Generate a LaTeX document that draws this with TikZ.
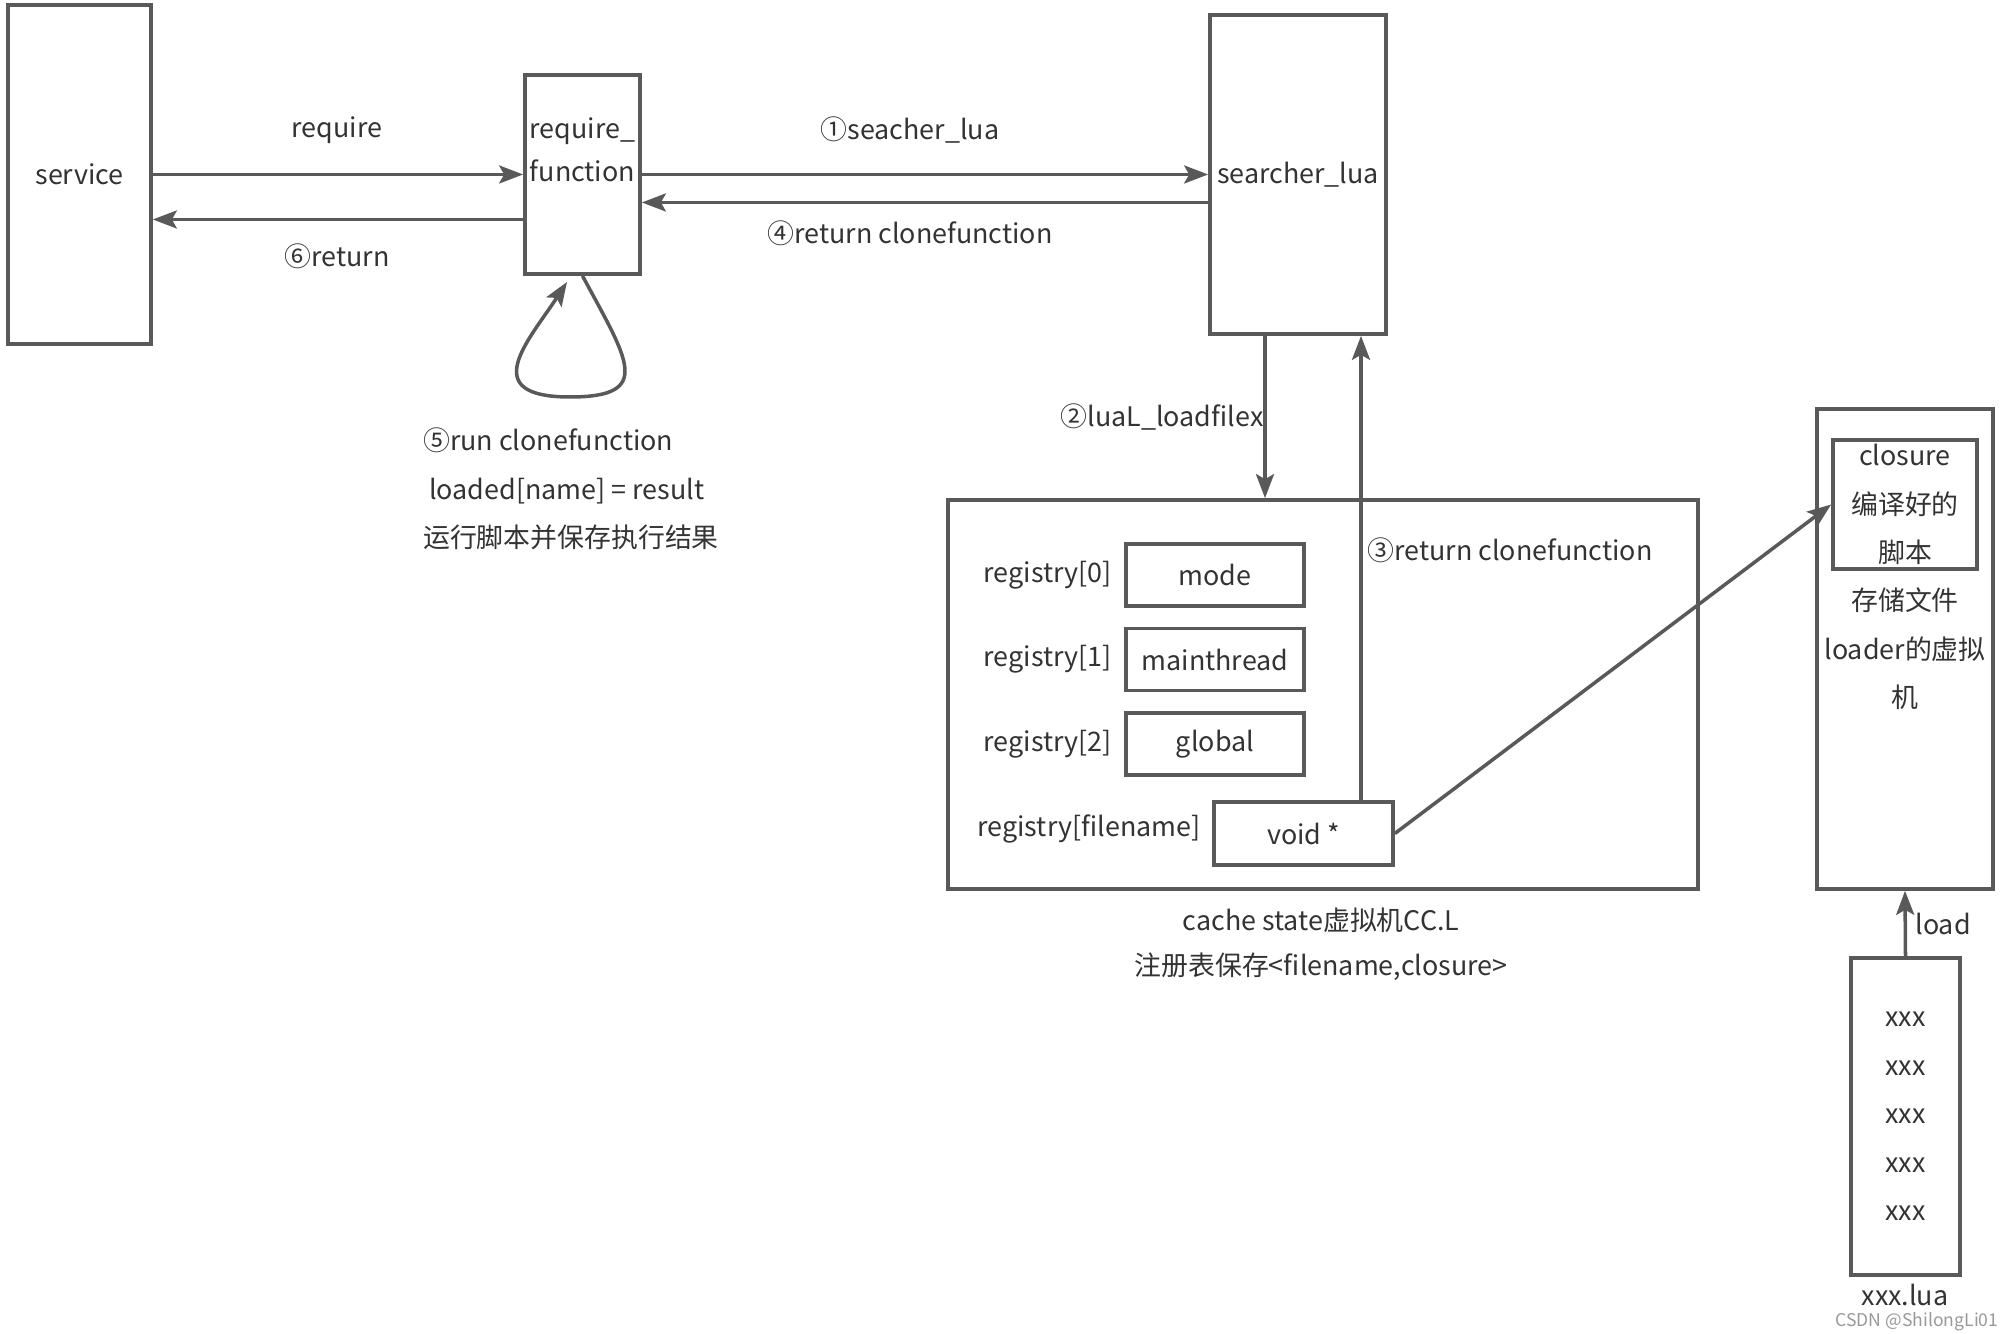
\documentclass[tikz,border=0pt]{standalone}
\usepackage{fontspec}
\setmainfont{Noto Sans CJK SC}
\usepackage{tikz}
\usetikzlibrary{arrows.meta}
\usetikzlibrary{positioning}
\definecolor{linegray}{HTML}{595959}
\definecolor{txtgray}{HTML}{333333}

\begin{document}
\begin{tikzpicture}[
		every node/.style={font=\fontsize{7.65pt}{13.8pt}\selectfont, text=txtgray},
		blk/.style={shape=rectangle, draw=linegray, line width=1.05pt, align=center, inner sep=0pt},
		wire/.style={draw=linegray, line width=1pt, -{Stealth[length=2.4mm, width=1.8mm, inset=0.5mm]}},
		lbl/.style={inner sep=0.4mm}]
		% Paths, nodes and wires:
		\useasboundingbox (0, 0) rectangle (20.06, 13.34);
		\node[blk, minimum width=1.43cm, minimum height=3.39cm](svc) at (0.795, 11.595){service};
		\node[blk, minimum width=1.15cm, minimum height=1.99cm](reqfn) at (5.825, 11.595){};
		\node[lbl, align=center](reqtxt) at (5.825, 11.84){require\_\\[-1.5pt]function};
		\node[blk, minimum width=1.76cm, minimum height=3.19cm](srch) at (12.98, 11.595){searcher\_lua};
		\node[blk, minimum width=7.50cm, minimum height=3.89cm](cache) at (13.23, 6.395){};
		\node[blk, minimum width=1.78cm, minimum height=0.62cm](mode) at (12.15, 7.59){mode};
		\node[blk, minimum width=1.78cm, minimum height=0.62cm](mthr) at (12.15, 6.745){mainthread};
		\node[blk, minimum width=1.78cm, minimum height=0.62cm](glob) at (12.15, 5.90){global};
		\node[blk, minimum width=1.79cm, minimum height=0.63cm](voidp) at (13.035, 5.005){void *};
		\node[blk, minimum width=1.76cm, minimum height=4.80cm](loader) at (19.05, 6.85){存储文件\\loader的虚拟\\机};
		\node[blk, minimum width=1.44cm, minimum height=1.29cm](clos) at (19.05, 8.295){closure\\编译好的\\脚本};
		\node[blk, minimum width=1.09cm, minimum height=3.17cm](xlua) at (19.055, 2.175){xxx\\xxx\\xxx\\xxx\\xxx};

		% labels
		\node[lbl, left=0.8mm of mode](reg0){registry[0]};
		\node[lbl, left=0.8mm of mthr](reg1){registry[1]};
		\node[lbl, left=0.8mm of glob](reg2){registry[2]};
		\node[lbl, left=0.7mm of voidp, yshift=0.5mm](regfn){registry[filename]};
		\node[lbl](reqlbl) at (3.37, 12.04){require};
		\node[lbl](retlbl) at (3.37, 10.78){⑥return};
		\node[lbl](seachlbl) at (9.10, 12.04){①seacher\_lua};
		\node[lbl](clonelbl) at (9.10, 11.01){④return clonefunction};
		\node[lbl](loadfx) at (11.62, 9.17){②luaL\_loadfilex};
		\node[lbl](retclone) at (15.10, 7.84){③return clonefunction};
		\node[lbl, align=left](runlbl) at (5.71, 8.45){⑤run clonefunction\\\ loaded[name] = result\\运行脚本并保存执行结果};
		\node[lbl, align=center](cachelbl) at (13.21, 3.895){cache state虚拟机CC.L\\[-1pt]注册表保存<filename,closure>};
		\node[lbl](loadlbl) at (19.43, 4.10){load};
		\node[lbl](lualbl) at (19.05, 0.39){xxx.lua};
		\node[lbl, font=\fontsize{5pt}{6pt}\selectfont, text=black!40](wmark) at (19.17, 0.12){CSDN @ShilongLi01};

		% wires
		\draw[wire] (svc.east) -- (reqfn.west);
		\draw[wire] ([yshift=-4.5mm]reqfn.west) -- ([yshift=-4.5mm]svc.east);
		\draw[wire] (reqfn.east) -- (srch.west);
		\draw[wire] ([yshift=-2.8mm]srch.west) -- ([yshift=-2.8mm]reqfn.east);
		\coordinate (ldx) at ([xshift=-3.3mm]srch.south);
		\draw[wire] (ldx) -- (ldx |- cache.north);
		\coordinate (rtx) at ([xshift=5.75mm]voidp.north);
		\draw[wire] (rtx) -- (rtx |- srch.south);
		\draw[wire] (voidp.east) -- (clos.west);
		\draw[wire] (xlua.north) -- (loader.south);
		\coordinate (loopend) at (5.67, 10.52);
		\draw[wire] (reqfn.south) .. controls (6.27, 9.75) and (6.55, 9.37) .. (5.70, 9.37) .. controls (4.75, 9.37) and (5.3, 9.95) .. (loopend);
	\end{tikzpicture}
\end{document}
